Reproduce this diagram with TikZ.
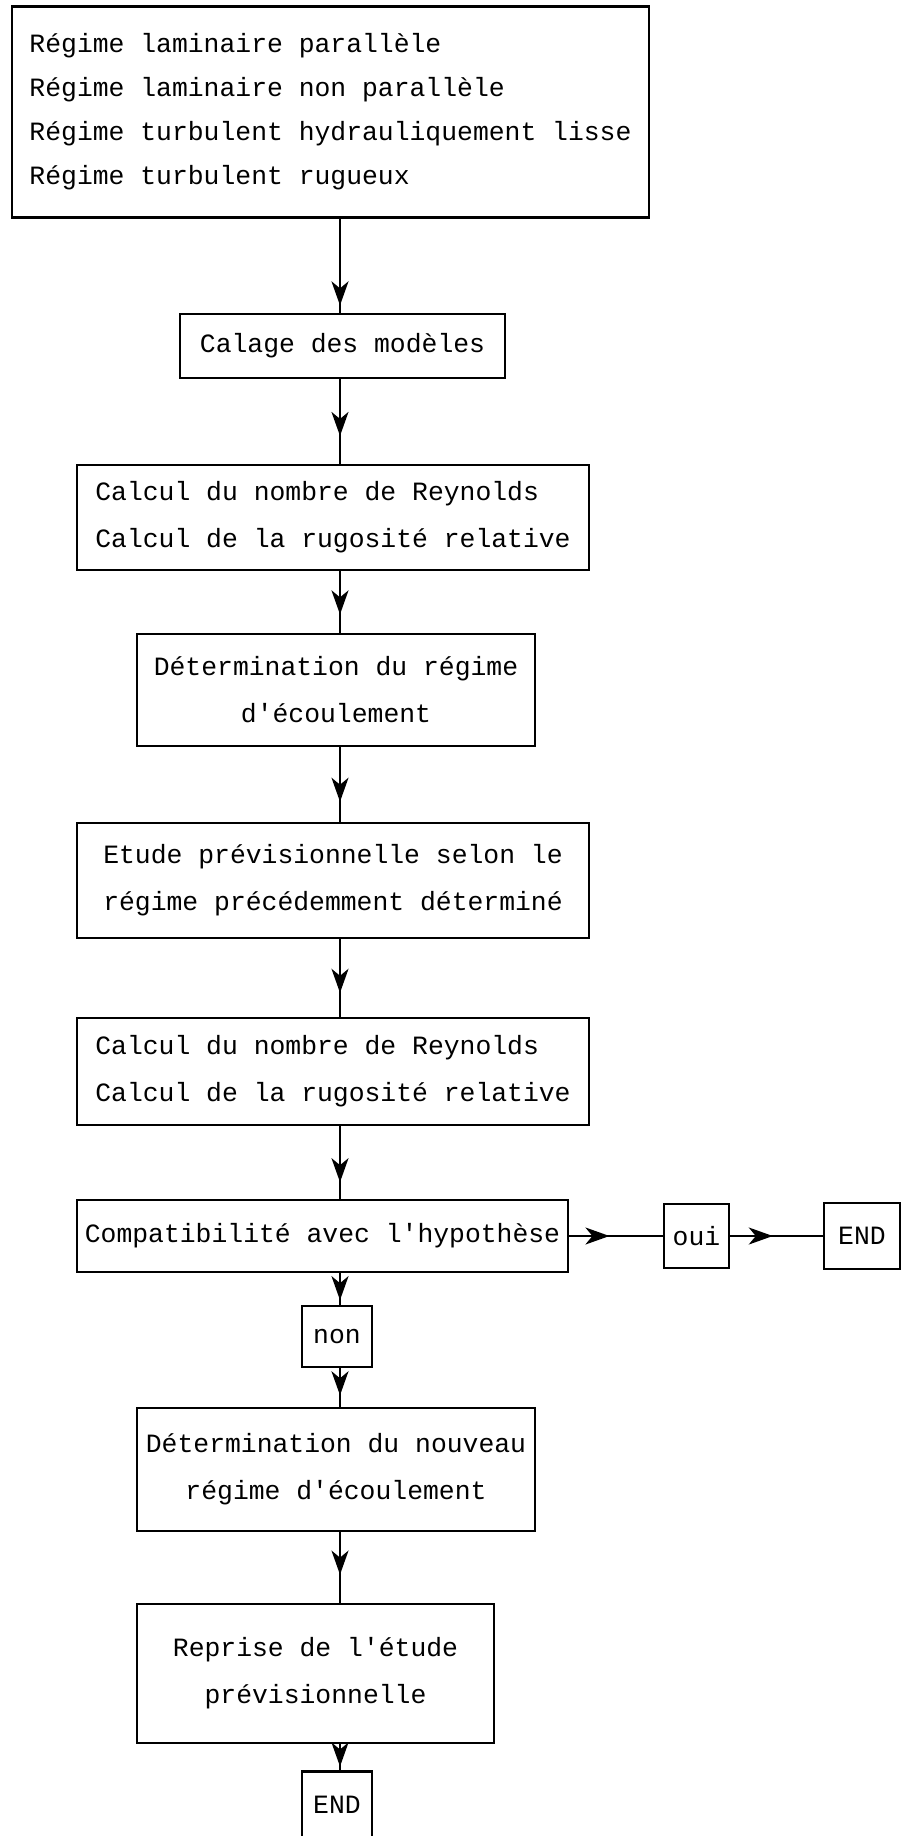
\documentclass[tikz,border=0pt]{standalone}
\usepackage{fontspec}
\setmonofont{Liberation Mono}
\usetikzlibrary{arrows.meta,decorations.markings,positioning}

\begin{document}
\begin{tikzpicture}[x=0.5pt,y=-0.5pt,
    every node/.style={rectangle,draw,line width=1.1pt,inner sep=0pt,
      font=\ttfamily\fontsize{13.2}{23.5}\selectfont,align=center},
    flow/.style={draw,line width=1.1pt,postaction={decorate},
      decoration={markings,mark=at position #1 with
        {\arrow{Stealth[length=12pt,width=8.5pt,inset=3.5pt]}}}},
    flow/.default=0.7]

  \useasboundingbox (0,0) rectangle (902,1836);
  \coordinate (spine) at (340,0);

  % main column
  \node[minimum width=318.5pt,minimum height=105.5pt,align=left,
        font=\ttfamily\fontsize{13.2}{22}\selectfont] (regimes) at (330.5,112)
    {Régime laminaire parallèle\\Régime laminaire non parallèle\\
     Régime turbulent hydrauliquement lisse\\Régime turbulent rugueux};
  \node[minimum width=162.5pt,minimum height=32pt] (calage) at (342.5,346)
    {Calage des modèles};
  \node[minimum width=256pt,minimum height=52.5pt,align=left] (calculA) at (333,517.5)
    {Calcul du nombre de Reynolds\\Calcul de la rugosité relative};
  \node[minimum width=199pt,minimum height=56pt] (regime) at (336,690)
    {Détermination du régime\\d'écoulement};
  \node[minimum width=256pt,minimum height=57.5pt] (etude) at (333,880.5)
    {Etude prévisionnelle selon le\\régime précédemment déterminé};
  \node[minimum width=256pt,minimum height=53.5pt,align=left] (calculB) at (333,1071.5)
    {Calcul du nombre de Reynolds\\Calcul de la rugosité relative};
  \node[minimum width=245.5pt,minimum height=36pt] (compat) at (322.5,1236)
    {Compatibilité avec l'hypothèse};

  % branches
  \node[minimum width=32.5pt,minimum height=32pt] (oui) at (696.5,1236) {oui};
  \node[minimum width=38pt,minimum height=33pt] (endA) at (862,1236) {END};
  \node[minimum width=35pt,minimum height=30.5pt] (non) at (337,1336.5) {non};
  \node[minimum width=199pt,minimum height=61.5pt] (nouveau) at (336,1469.5)
    {Détermination du nouveau\\régime d'écoulement};
  \node[minimum width=178.5pt,minimum height=69.5pt] (reprise) at (315.5,1673.5)
    {Reprise de l'étude\\prévisionnelle};
  \node[minimum width=35pt,minimum height=33pt] (endB) at (337,1804.5) {END};

  \draw[flow=0.92] (regimes.south -| spine) -- (calage.north -| spine);
  \draw[flow=0.67] (calage.south -| spine) -- (calculA.north -| spine);
  \draw[flow=0.7] (calculA.south -| spine) -- (regime.north -| spine);
  \draw[flow=0.73] (regime.south -| spine) -- (etude.north -| spine);
  \draw[flow=0.69] (etude.south -| spine) -- (calculB.north -| spine);
  \draw[flow=0.77] (calculB.south -| spine) -- (compat.north -| spine);
  \draw[flow=0.85] (compat.south -| spine) -- (non.north -| spine);
  \draw[flow=0.7] (non.south -| spine) -- (nouveau.north -| spine);
  \draw[flow=0.6] (nouveau.south -| spine) -- (reprise.north -| spine);
  \draw[flow=0.85] (reprise.south -| spine) -- (endB.north -| spine);

  \draw[flow=0.43] (compat) -- (oui);
  \draw[flow=0.46] (oui) -- (endA);
\end{tikzpicture}
\end{document}
